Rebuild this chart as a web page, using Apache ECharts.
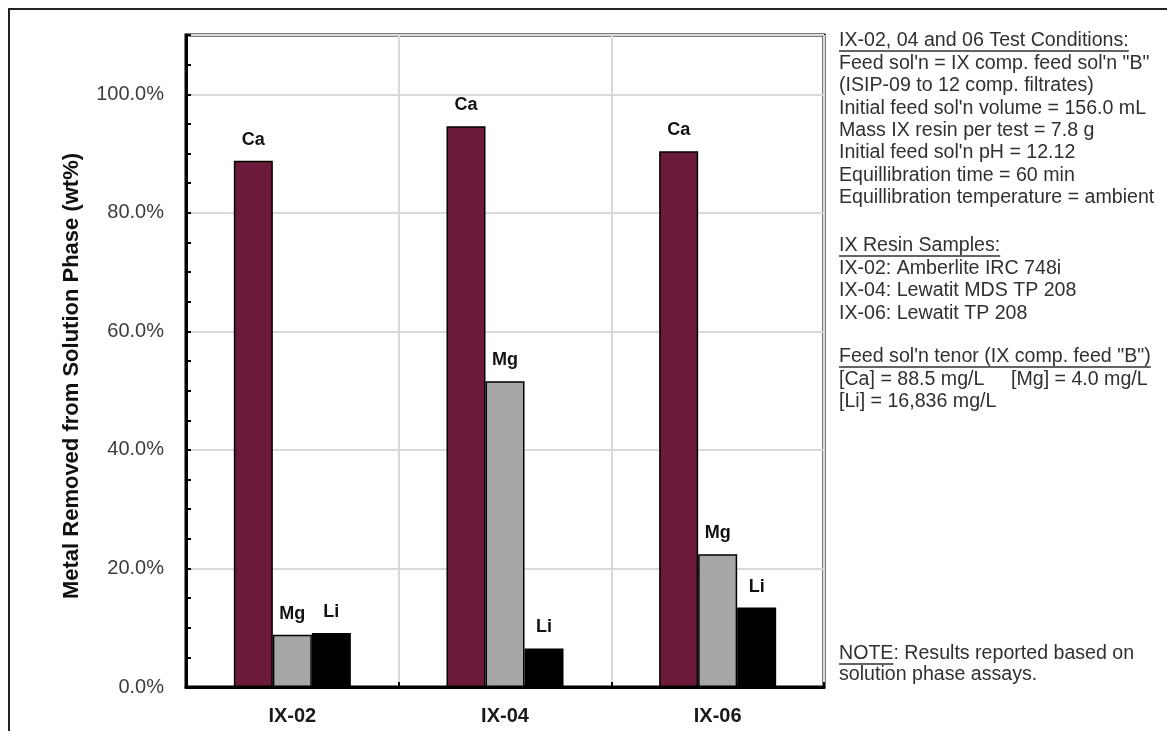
<!DOCTYPE html>
<html>
<head>
<meta charset="utf-8">
<script src="https://cdn.jsdelivr.net/npm/echarts@6/dist/echarts.min.js"></script>
<style>
  html, body { margin: 0; padding: 0; background: #fff; }
  #chart { width: 1167px; height: 731px; }
</style>
</head>
<body>
<div id="chart"></div>
<script>
// Ion-exchange resin screening: metal removal from the feed solution
const categories = ['IX-02', 'IX-04', 'IX-06'];
const metals = ['Ca', 'Mg', 'Li'];
const caRemoved = [88.8, 94.6, 90.4];
const mgRemoved = [8.8, 51.6, 22.4];
const liRemoved = [9.1, 6.5, 13.4];
const yTickLabels = ['0.0%', '20.0%', '40.0%', '60.0%', '80.0%', '100.0%'];
const yTitle = 'Metal Removed from Solution Phase (wt%)';

// Side notes
const conditionsTitle = 'IX-02, 04 and 06 Test Conditions:';
const conditionsLines = [
  "Feed sol'n = IX comp. feed sol'n \"B\"",
  '(ISIP-09 to 12 comp. filtrates)',
  "Initial feed sol'n volume = 156.0 mL",
  'Mass IX resin per test = 7.8 g',
  "Initial feed sol'n pH = 12.12",
  'Equillibration time = 60 min',
  'Equillibration temperature = ambient'
];
const resinTitle = 'IX Resin Samples:';
const resinLines = [
  'IX-02: Amberlite IRC 748i',
  'IX-04: Lewatit MDS TP 208',
  'IX-06: Lewatit TP 208'
];
const tenorTitle = 'Feed sol\'n tenor (IX comp. feed "B")';
const tenorCa = '[Ca] = 88.5 mg/L';
const tenorMg = '[Mg] = 4.0 mg/L';
const tenorLi = '[Li] = 16,836 mg/L';
const noteHead = 'NOTE';
const noteRest = ': Results reported based on';
const noteLine2 = 'solution phase assays.';

const FONT = '"Liberation Sans", Arial, sans-serif';
const panelSize = 19.6;
const panelColor = '#303030';

const measure = (() => {
  const ctx = document.createElement('canvas').getContext('2d');
  return (txt, size, weight) => {
    ctx.font = (weight || 'normal') + ' ' + size + 'px ' + FONT;
    return ctx.measureText(txt).width;
  };
})();

const graphics = [];
// outer frame
graphics.push({
  type: 'rect', shape: { x: 9, y: 9, width: 1300, height: 900 },
  style: { fill: 'none', stroke: '#222', lineWidth: 2 }, silent: true, z: 0
});

// rotated value-axis title
graphics.push({
  type: 'text', x: 72, y: 376, rotation: Math.PI / 2,
  style: { text: yTitle, fill: '#111', font: 'bold 22px ' + FONT, align: 'center', verticalAlign: 'middle' },
  silent: true
});

const px = 839;
function addText(txt, x, y) {
  graphics.push({
    type: 'text', x: x, y: y,
    style: { text: txt, fill: panelColor, font: 'normal ' + panelSize + 'px ' + FONT, verticalAlign: 'middle', align: 'left' },
    silent: true
  });
}
function addUnderline(txt, x, y) {
  const w = measure(txt, panelSize);
  graphics.push({
    type: 'line', shape: { x1: x, y1: y + 10, x2: x + w, y2: y + 10 },
    style: { stroke: panelColor, lineWidth: 1.5 }, silent: true
  });
}

let y = 41;
const lh = 22.4;
addText(conditionsTitle, px, y); addUnderline(conditionsTitle, px, y);
conditionsLines.forEach((t, i) => addText(t, px, y + lh * (i + 1)));

y = 246;
addText(resinTitle, px, y); addUnderline(resinTitle, px, y);
resinLines.forEach((t, i) => addText(t, px, y + lh * (i + 1)));

y = 357;
addText(tenorTitle, px, y); addUnderline(tenorTitle, px, y);
addText(tenorCa, px, y + lh);
addText(tenorMg, 1011, y + lh);
addText(tenorLi, px, y + 2 * lh);

y = 654;
addText(noteHead, px, y); addUnderline(noteHead, px, y);
addText(noteRest, px + measure(noteHead, panelSize), y);
addText(noteLine2, px, y + 21);

const seriesData = [caRemoved, mgRemoved, liRemoved];
const seriesColors = ['#6b1a3a', '#a6a6a6', '#000000'];

const chart = echarts.init(document.getElementById('chart'), null, { renderer: 'canvas' });
chart.setOption({
  animation: false,
  backgroundColor: '#fff',
  textStyle: { fontFamily: FONT },
  grid: {
    left: 186, top: 35, right: 343, bottom: 44,
    show: true, borderColor: '#000', borderWidth: 3, backgroundColor: 'transparent'
  },
  xAxis: {
    type: 'category',
    data: categories,
    axisLine: { lineStyle: { color: '#000', width: 3 } },
    axisTick: { show: true, inside: true, length: 5, lineStyle: { color: '#000', width: 2 } },
    axisLabel: { fontSize: 20, fontWeight: 'bold', color: '#1a1a1a', margin: 19, fontFamily: FONT },
    splitLine: { show: true, lineStyle: { color: '#d9d9d9', width: 2 } }
  },
  yAxis: [
    {
      type: 'value', min: 0, max: 110, interval: 20,
      axisLine: { show: true, lineStyle: { color: '#000', width: 3 } },
      axisTick: { show: false },
      axisLabel: {
        fontSize: 20, color: '#3c3c3c', margin: 22, fontFamily: FONT,
        formatter: v => {
          const idx = Math.round(v / 20);
          return (v % 20 === 0 && idx < yTickLabels.length) ? yTickLabels[idx] : '';
        }
      },
      splitLine: { show: true, lineStyle: { color: '#d9d9d9', width: 2 } }
    },
    {
      type: 'value', min: 0, max: 110, interval: 5, position: 'left',
      axisLine: { show: false },
      axisTick: { show: true, inside: true, length: 5, lineStyle: { color: '#000', width: 2 } },
      axisLabel: { show: false },
      splitLine: { show: false }
    }
  ],
  series: metals.map((m, i) => ({
    name: m,
    type: 'bar',
    yAxisIndex: 0,
    data: seriesData[i],
    barWidth: 39,
    barGap: '0%',
    itemStyle: { color: seriesColors[i], borderColor: '#000', borderWidth: 1.5 },
    label: {
      show: true, position: 'top', distance: 12,
      formatter: '{a}', fontSize: 18, fontWeight: 'bold', color: '#111', fontFamily: FONT
    }
  })),
  graphic: graphics
});
</script>
</body>
</html>
